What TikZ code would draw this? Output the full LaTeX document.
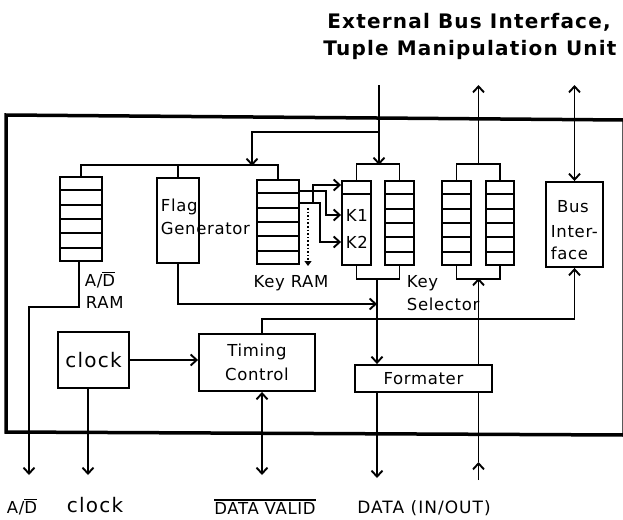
\documentclass[tikz,border=0pt]{standalone}
\usepackage{fontspec}
\setmainfont{DejaVu Sans}
\usetikzlibrary{arrows.meta,calc}
\newcommand\ovl[1]{\leavevmode\vbox{\hrule height 1.4pt\kern 1.8pt\hbox{#1}}}
\begin{document}
\begin{tikzpicture}[x=1pt,y=-1pt,line width=1.9pt,
  arr/.style={-{Straight Barb[length=6pt,width=11pt]}},
  darr/.style={{Straight Barb[length=6pt,width=11pt]}-{Straight Barb[length=6pt,width=11pt]}},
  box/.style={draw,line width=1.9pt,inner sep=0pt},
  lbl/.style={font=\fontsize{16.5}{24}\selectfont\addfontfeature{LetterSpace=4},inner sep=0pt},
  big/.style={font=\fontsize{20}{24}\selectfont\addfontfeature{LetterSpace=6},inner sep=0pt},
  ttl/.style={font=\bfseries\fontsize{20}{24}\selectfont\addfontfeature{LetterSpace=6},inner sep=0pt}]
\useasboundingbox (0,0) rectangle (623,519);

% outer frame (right edge lies at the very border of the picture)
\draw[line width=3.5pt] (6,115) -- (624,120) -- (624,435) -- (6,432) -- cycle;

% title
\node[ttl] (t1) at (469,22) {External Bus Interface,};
\node[ttl] (t2) at (470,50) {Tuple Manipulation Unit};

% blocks
\node[box,minimum width=42pt,minimum height=84pt] (adram) at (81,219) {};
\node[box,minimum width=42pt,minimum height=85pt] (flag) at (178,220.5) {};
\node[box,minimum width=42pt,minimum height=84pt] (keyram) at (278,222) {};
\node[box,minimum width=29pt,minimum height=84pt] (ksL) at (356.5,223) {};
\node[box,minimum width=29pt,minimum height=84pt] (ksR) at (399.5,223) {};
\node[box,minimum width=29pt,minimum height=84pt] (obL) at (456.5,223) {};
\node[box,minimum width=28pt,minimum height=84pt] (obR) at (500,223) {};
\node[box,minimum width=57pt,minimum height=85pt] (busif) at (574.5,224.5) {};
\node[box,big,minimum width=71pt,minimum height=56pt] (clock) at (93.5,360) {clock};
\node[box,lbl,align=center,minimum width=116pt,minimum height=57pt] (timing) at (257,362.5) {Timing\\Control};
\node[box,lbl,minimum width=137pt,minimum height=27pt] (formater) at (423.5,378.5) {Formater};

% register cells
\foreach \n in {adram,keyram,ksR,obL,obR}
  \foreach \i in {1,...,5}
    \draw ($(\n.north west)!\i/6!(\n.south west)$) -- ($(\n.north east)!\i/6!(\n.south east)$);
\draw ($(ksL.north west)!1/6!(ksL.south west)$) -- ($(ksL.north east)!1/6!(ksL.south east)$);

% brackets
\draw (ksL.north) -- ++(0,-16) -| (ksR.north);
\draw (ksL.south) -- ++(0,13) -| (ksR.south);
\draw (obL.north) -- ++(0,-16) -| (obR.north);
\draw (obL.south) -- ++(0,13) -| (obR.south);

\coordinate (tin) at (379,85);
\coordinate (kst) at (379,165);
\coordinate (br) at (379,132);
\coordinate (ksb) at (377,278);
\coordinate (obt) at (478.5,165);
\coordinate (obb) at (478.5,278);
\coordinate (oout) at (478.5,85);
\coordinate (bin) at (574.5,85);

% top connections
\draw[arr] (tin) -- (kst);
\draw[arr] (br) -- (252,132) -- (252,166);
\draw (adram.north) -- ++(0,-11) -| (keyram.north);
\draw (flag.north) -- (flag.north |- 0,166);
\draw[arr] (obt) -- (oout);
\draw[darr] (bin) -- (busif.north);

% key RAM to key selector
\draw[arr] (299,191) -| (326,215) -- (ksL.west |- 0,215);
\draw[arr] (299,203) -| (320,242) -- (ksL.west |- 0,242);
\draw[arr] (313,203) -- (313,185) -- (ksL.west |- 0,185);
\draw[dotted,line width=1.6pt,-{Triangle[length=5pt,width=7pt]}] (308,208) -- (308,266);
\node[lbl,anchor=west] (k1) at (345,215) {K1};
\node[lbl,anchor=west] (k2) at (345,242) {K2};

% middle connections
\draw[arr] (ksb) -- (ksb |- formater.north);
\draw[arr] (flag.south) -- (flag.south |- 0,304) -- (ksb |- 0,304);
\draw[arr] (formater.north -| obb) -- (obb);
\draw[arr] ($(timing.north)+(5,0)$) -- ++(0,-14) -| (busif.south);
\draw[arr] (clock.east) -- (clock.east -| timing.west);

% outputs
\draw[arr] (adram.south -| 79,0) -- (79,307) -- (29,307) -- (29,475);
\draw[arr] (clock.south -| 88,0) -- (88,475);
\draw[darr] (timing.south -| 262,0) -- (262,475);
\draw[arr] (formater.south -| ksb) -- (377,478);
\draw[arr] (478.5,480) -- (478.5,462);
\draw (478.5,462) -- (formater.south -| obb);

% labels
\node[lbl,anchor=west] (adl1) at (84,280) {A/\ovl{D}};
\node[lbl,anchor=west] (adl2) at (85,302) {RAM};
\node[lbl,anchor=west] (fl1) at (160,207) {Flag};
\node[lbl,anchor=west] (fl2) at (160,228) {Generator};
\node[lbl] (krl) at (291,283) {Key RAM};
\node[lbl,anchor=west] (ksl1) at (406,283) {Key};
\node[lbl,anchor=west] (ksl2) at (406,304) {Selector};
\node[lbl] (bl1) at (573,207) {Bus};
\node[lbl,anchor=west] (bl2) at (550,232) {Inter-};
\node[lbl,anchor=west] (bl3) at (550,253) {face};

% bottom labels
\node[lbl] (o1) at (22,507) {A/\ovl{D}};
\node[big] (o2) at (95,505) {clock};
\node[lbl] (o3) at (265,507) {\ovl{DATA VALID}};
\node[lbl,font=\fontsize{17}{24}\selectfont\addfontfeature{LetterSpace=6}] (o4) at (424,508) {DATA (IN/OUT)};
\end{tikzpicture}
\end{document}
